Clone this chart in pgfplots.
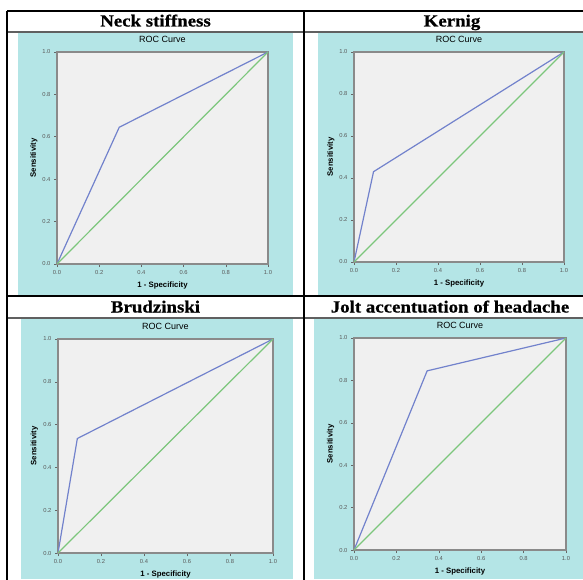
\documentclass[border=0pt]{standalone}
\usepackage{fontspec}
\setmainfont{Liberation Sans}
\newfontfamily\hdrfont[FakeStretch=1.11, FakeBold=0.6]{Liberation Serif}
\usepackage{pgfplots}
\pgfplotsset{compat=1.18}
\definecolor{tealbg}{HTML}{B4E5E6}
\definecolor{plotbg}{HTML}{F0F0F0}
\definecolor{framegray}{HTML}{8A8A8A}
\definecolor{roc}{HTML}{7282CC}
\definecolor{ref}{HTML}{7CC67C}
\definecolor{hdrline}{HTML}{606060}
\pgfplotsset{
  rocax/.style={
    anchor=south west, scale only axis,
    xmin=0, xmax=1, ymin=0, ymax=1,
    xtick={0,0.2,0.4,0.6,0.8,1}, ytick={0,0.2,0.4,0.6,0.8,1},
    /pgf/number format/assume math mode=true,
    /pgf/number format/fixed, /pgf/number format/precision=1,
    /pgf/number format/fixed zerofill,
    tick label style={font=\fontsize{5.8}{6}\selectfont, text=black!65},
    axis line style={draw=framegray, line width=1.6pt},
    axis background/.style={fill=plotbg},
    tick align=outside, major tick length=3pt,
    tick style={draw=black!60, line width=0.6pt},
    xtick pos=bottom, ytick pos=left,
    title={ROC Curve},
    title style={font=\fontsize{9}{10}\selectfont, at={(axis description cs:0.5,1)}, anchor=base, yshift=3.5pt},
    xlabel={1 - Specificity},
    ylabel={Sensitivity},
    xlabel style={font=\bfseries\fontsize{7.8}{9}\selectfont, at={(axis description cs:0.5,-0.10)}, anchor=center},
    ylabel style={font=\bfseries\fontsize{7.8}{9}\selectfont, at={(axis description cs:-0.11,0.5)}, anchor=center},
  }
}
\begin{document}
\begin{tikzpicture}[x=1pt,y=1pt]
\useasboundingbox (0,0) rectangle (583,579);
\clip (0,0) rectangle (583,579);
\fill[white] (0,0) rectangle (583,579);
% teal panels (y measured from top: Y = 579 - y)
\fill[tealbg] (18,{579-295}) rectangle (293,{579-32});
\fill[tealbg] (318,{579-295}) rectangle (583,{579-32});
\fill[tealbg] (21,0) rectangle (293,{579-318});
\fill[tealbg] (314,0) rectangle (583,{579-318});
% table lines
\draw[black, line width=1.2pt] (7,{579-11}) -- (600,{579-11});
\draw[hdrline, line width=1.8pt] (7,{579-32}) -- (600,{579-32});
\draw[black, line width=1.2pt] (7,{579-296}) -- (600,{579-296});
\draw[hdrline, line width=1.8pt] (7,{579-318}) -- (600,{579-318});
\draw[black, line width=1.2pt] (7,{579-11}) -- (7,-5);
\draw[black, line width=1.2pt] (304,{579-11}) -- (304,-5);
% headers
\node[font=\hdrfont\bfseries\fontsize{17}{19}\selectfont, anchor=base] at (155.5,{579-26.5}) {Neck stiffness};
\node[font=\hdrfont\bfseries\fontsize{17}{19}\selectfont, anchor=base] at (452,{579-26.5}) {Kernig};
\node[font=\hdrfont\bfseries\fontsize{17}{19}\selectfont, anchor=base] at (155.5,{579-312.5}) {Brudzinski};
\node[font=\hdrfont\bfseries\fontsize{17}{19}\selectfont, anchor=base] at (450,{579-312.5}) {Jolt accentuation of headache};

\begin{axis}[rocax, at={(57pt,315pt)}, width=211pt, height=212pt]
\addplot[roc, line width=1.2pt] coordinates {(0,0) (0.295,0.645) (1,1)};
\addplot[ref, line width=1.2pt] coordinates {(0,0) (1,1)};
\end{axis}
\begin{axis}[rocax, at={(354pt,317pt)}, width=210pt, height=210pt]
\addplot[roc, line width=1.2pt] coordinates {(0,0) (0.093,0.43) (1,1)};
\addplot[ref, line width=1.2pt] coordinates {(0,0) (1,1)};
\end{axis}
\begin{axis}[rocax, at={(58pt,26pt)}, width=215pt, height=214pt]
\addplot[roc, line width=1.2pt] coordinates {(0,0) (0.09,0.535) (1,1)};
\addplot[ref, line width=1.2pt] coordinates {(0,0) (1,1)};
\end{axis}
\begin{axis}[rocax, at={(354pt,29pt)}, width=212pt, height=212pt]
\addplot[roc, line width=1.2pt] coordinates {(0,0) (0.345,0.845) (1,1)};
\addplot[ref, line width=1.2pt] coordinates {(0,0) (1,1)};
\end{axis}
\end{tikzpicture}
\end{document}
